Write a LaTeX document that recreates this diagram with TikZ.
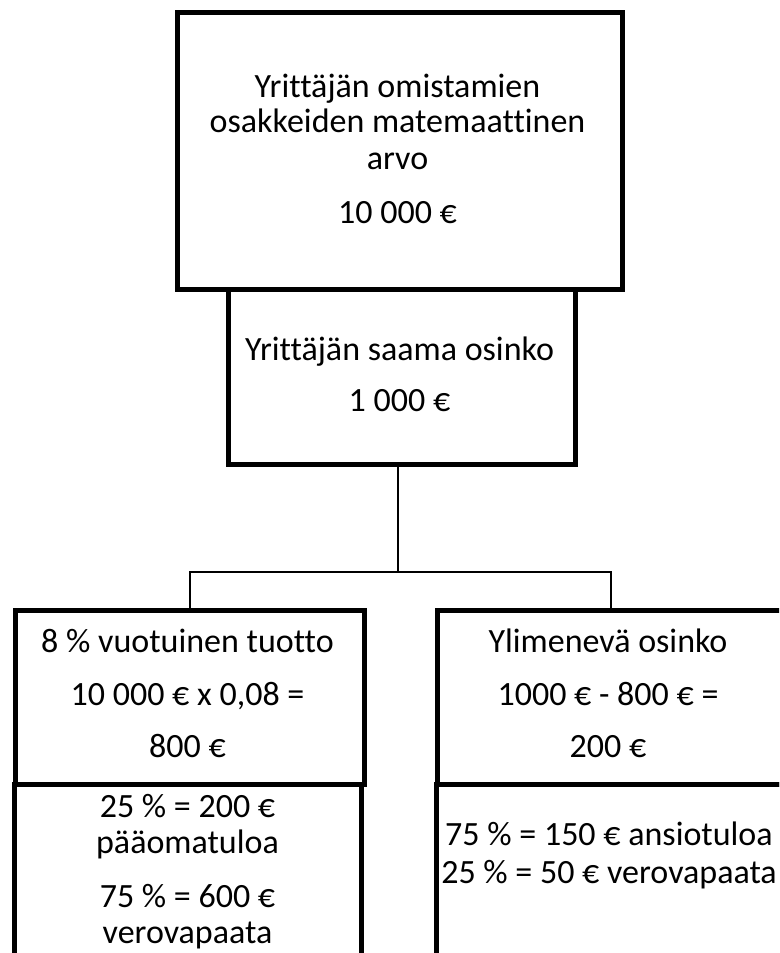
\documentclass[tikz,border=0pt]{standalone}
\usepackage{fontspec}
\setmainfont{Carlito}[Ligatures={NoCommon}]
\begin{document}
\begin{tikzpicture}[x=1pt,y=-1pt,
  box/.style={draw, line width=4.5pt, rectangle, inner sep=0pt, anchor=north west},
  txt/.style={anchor=base, inner sep=0pt, font=\fontsize{34}{40}\selectfont},
  conn/.style={line width=2pt}]
\useasboundingbox (0,0) rectangle (779,953);
\clip (0,0) rectangle (779,953);
% boxes
\node[box, minimum width=445pt, minimum height=277pt] (b1) at (175,10) {};
\node[box, minimum width=347pt, minimum height=175pt] (b2) at (226,287) {};
\node[box, minimum width=349pt, minimum height=174pt] (b3) at (13,608) {};
\node[box, minimum width=347pt, minimum height=190pt] (b3b) at (12,782) {};
\node[box, minimum width=348pt, minimum height=174pt] (b4) at (435,608) {};
\node[box, minimum width=349pt, minimum height=190pt] (b4b) at (434,782) {};
% connectors
\coordinate (j) at (398,572);
\draw[conn] (398,462) -- (j);
\draw[conn] (b3.north) |- (j) -| (b4.north);
% texts
\node[txt] (t1a) at (397.5,97) {Yrittäjän omistamien};
\node[txt] (t1b) at (397.5,132) {osakkeiden matemaattinen};
\node[txt] (t1c) at (397.5,169) {arvo};
\node[txt] (t1d) at (397.5,223) {10 000 €};
\node[txt] (t2a) at (399.5,360) {Yrittäjän saama osinko};
\node[txt] (t2b) at (399.5,411) {1 000 €};
\node[txt] (t3a) at (187.5,652) {8 \% vuotuinen tuotto};
\node[txt] (t3b) at (187.5,705) {10 000 € x 0,08 =};
\node[txt] (t3c) at (187.5,757) {800 €};
\node[txt] (t3d) at (187.5,817) {25 \% = 200 €};
\node[txt] (t3e) at (187.5,853) {pääomatuloa};
\node[txt] (t3f) at (187.5,907) {75 \% = 600 €};
\node[txt] (t3g) at (187.5,943) {verovapaata};
\node[txt] (t4a) at (608,652) {Ylimenevä osinko};
\node[txt] (t4b) at (608,705) {1000 € - 800 € =};
\node[txt] (t4c) at (608,757) {200 €};
\node[txt] (t4d) at (609,845) {75 \% = 150 € ansiotuloa};
\node[txt] (t4e) at (609,883) {25 \% = 50 € verovapaata};
\end{tikzpicture}
\end{document}
